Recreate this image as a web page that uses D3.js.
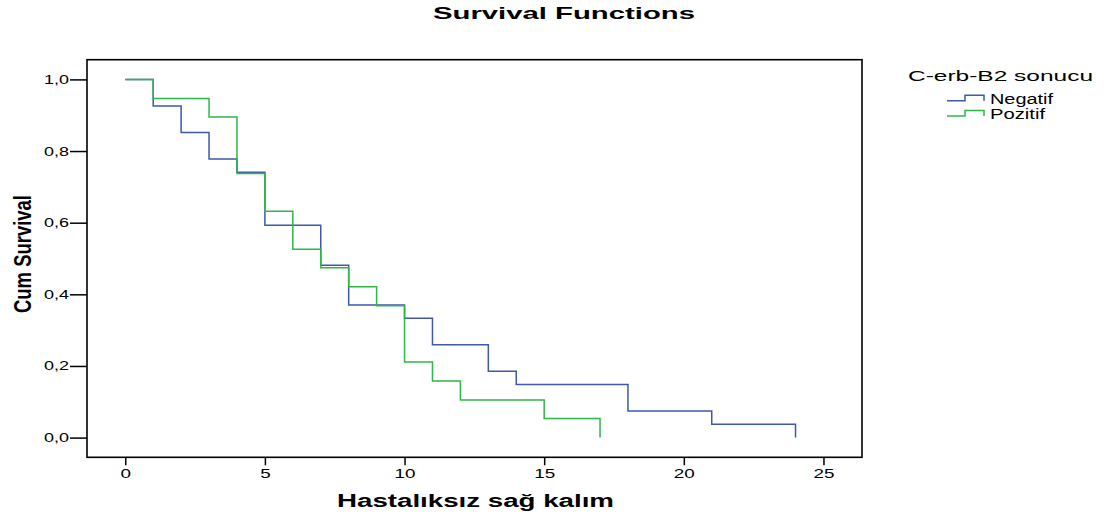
<!DOCTYPE html>
<html>
<head>
<meta charset="utf-8">
<script src="https://cdn.jsdelivr.net/npm/d3@7"></script>
<style>
  html, body { margin: 0; padding: 0; background: #fff; }
  svg { display: block; font-family: Arial, "Liberation Sans", sans-serif; }
</style>
</head>
<body>
<svg id="chart" width="1104" height="516"></svg>
<script>
// ---- data ----
const seriesNames = ["Negatif", "Pozitif"];
const negatifTimes = [0, 1, 2, 3, 4, 5, 7, 8, 10, 11, 13, 14, 18, 21, 24];
const negatifSurv  = [1.0, 0.926, 0.852, 0.778, 0.741, 0.593, 0.481, 0.370, 0.333, 0.259, 0.185, 0.148, 0.074, 0.037, 0.0];
const pozitifTimes = [0, 1, 3, 4, 5, 6, 7, 8, 9, 10, 11, 12, 15, 17];
const pozitifSurv  = [1.0, 0.947, 0.895, 0.737, 0.632, 0.526, 0.474, 0.421, 0.368, 0.211, 0.158, 0.105, 0.053, 0.0];
const xTicks = [0, 5, 10, 15, 20, 25];
const yTicks = [0, 0.2, 0.4, 0.6, 0.8, 1.0];
const titleText = "Survival Functions";
const xLabel = "Hastalıksız sağ kalım";
const yLabel = "Cum Survival";
const legendTitle = "C-erb-B2 sonucu";

// ---- layout ----
const colors = ["#3e58ac", "#2eb848"];
const frame = { left: 87, top: 59.7, right: 862, bottom: 457.3 };

const svg = d3.select("#chart");

const x = d3.scaleLinear().domain([-1.37, 26.38]).range([frame.left, frame.right]);
const y = d3.scaleLinear().domain([-0.055, 1.055]).range([frame.bottom, frame.top]);

// title
svg.append("text")
  .attr("x", 564).attr("y", 19)
  .attr("text-anchor", "middle")
  .attr("font-size", 17).attr("font-weight", "bold")
  .attr("textLength", 262).attr("lengthAdjust", "spacingAndGlyphs")
  .text(titleText);

// axes
const fmt = d => d3.format(".1f")(d).replace(".", ",");
const yAxis = svg.append("g")
  .attr("transform", `translate(${frame.left},0)`)
  .call(d3.axisLeft(y).tickValues(yTicks).tickSize(17).tickPadding(1).tickFormat(fmt));
yAxis.select(".domain").remove();
yAxis.selectAll("line").attr("stroke", "#000").attr("stroke-width", 1.5);
yAxis.selectAll("text")
  .attr("font-size", 12.5).attr("fill", "#000")
  .attr("font-family", "Arial, 'Liberation Sans', sans-serif")
  .attr("textLength", 25).attr("lengthAdjust", "spacingAndGlyphs");

const xAxis = svg.append("g")
  .attr("transform", `translate(0,${frame.bottom})`)
  .call(d3.axisBottom(x).tickValues(xTicks).tickSize(8).tickPadding(3).tickFormat(d3.format("d")));
xAxis.select(".domain").remove();
xAxis.selectAll("line").attr("stroke", "#000").attr("stroke-width", 1.5);
xAxis.selectAll("text")
  .attr("font-size", 13).attr("fill", "#000")
  .attr("font-family", "Arial, 'Liberation Sans', sans-serif")
  .attr("textLength", d => String(d).length * 10.5).attr("lengthAdjust", "spacingAndGlyphs");

// frame
svg.append("rect")
  .attr("x", x.range()[0]).attr("y", y.range()[1])
  .attr("width", x.range()[1] - x.range()[0])
  .attr("height", y.range()[0] - y.range()[1])
  .attr("fill", "none").attr("stroke", "#000").attr("stroke-width", 1.6);

// survival lines
const line = d3.line().x(d => x(d[0])).y(d => y(d[1])).curve(d3.curveStepAfter);
const series = [
  d3.zip(negatifTimes, negatifSurv),
  d3.zip(pozitifTimes, pozitifSurv)
];
series.forEach((pts, i) => {
  svg.append("path")
    .attr("d", line(pts))
    .attr("fill", "none")
    .attr("stroke", colors[i])
    .attr("stroke-width", 1.5);
});

// axis labels
svg.append("text")
  .attr("x", 475.5).attr("y", 507)
  .attr("text-anchor", "middle")
  .attr("font-size", 18).attr("font-weight", "bold")
  .attr("textLength", 277).attr("lengthAdjust", "spacingAndGlyphs")
  .text(xLabel);

svg.append("text")
  .attr("transform", "translate(31,254) rotate(-90)")
  .attr("text-anchor", "middle")
  .attr("font-size", 24).attr("font-weight", "bold")
  .attr("textLength", 118).attr("lengthAdjust", "spacingAndGlyphs")
  .text(yLabel);

// legend
svg.append("text")
  .attr("x", 908).attr("y", 81)
  .attr("font-size", 15.5)
  .attr("textLength", 185).attr("lengthAdjust", "spacingAndGlyphs")
  .text(legendTitle);

const legendWidths = [63, 55];
seriesNames.forEach((name, i) => {
  const base = 100.7 + i * 15.3;
  const glyph = [[947, base], [965, base], [965, base - 5.5], [984, base - 5.5], [984, base]];
  svg.append("path")
    .attr("d", d3.line()(glyph))
    .attr("fill", "none").attr("stroke", colors[i]).attr("stroke-width", 1.5);
  svg.append("text")
    .attr("x", 990).attr("y", 104 + i * 15)
    .attr("font-size", 14)
    .attr("textLength", legendWidths[i]).attr("lengthAdjust", "spacingAndGlyphs")
    .text(name);
});
</script>
</body>
</html>
